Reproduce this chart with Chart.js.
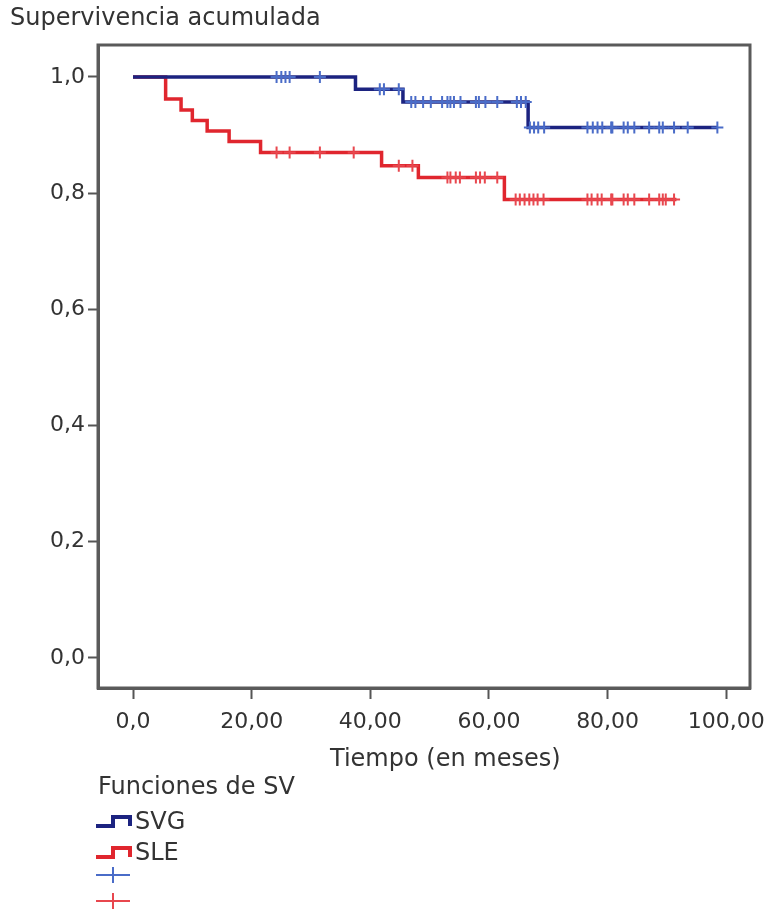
<!DOCTYPE html>
<html>
<head>
<meta charset="utf-8">
<script src="https://cdn.jsdelivr.net/npm/chart.js@4.4.1/dist/chart.umd.min.js"></script>
<style>
  body { margin: 0; background: #fff; font-family: "DejaVu Sans", Verdana, sans-serif; color: #333; }
  #wrap { position: relative; width: 767px; height: 910px; }
  #chart { position: absolute; left: 0; top: 0; }
  .txt { position: absolute; white-space: nowrap; font-size: 24px; color: #333; }
  .leg { position: absolute; left: 95px; height: 26px; display: flex; align-items: center; font-size: 24px; color: #333; }
  .leg svg { margin-right: 2px; }
</style>
</head>
<body>
<div id="wrap">
  <canvas id="chart" width="767" height="910"></canvas>
  <div class="txt" style="left:10px; top:3px;">Supervivencia acumulada</div>
  <div class="txt" style="left:330px; top:744px;">Tiempo (en meses)</div>
  <div class="txt" style="left:98px; top:772px;">Funciones de SV</div>
  <div class="leg" style="top:808px;">
    <svg width="38" height="20"><path d="M1 15 H18 V6 H35 V15" fill="none" stroke="#1c2380" stroke-width="4"/></svg>SVG
  </div>
  <div class="leg" style="top:839px;">
    <svg width="38" height="20"><path d="M1 15 H18 V6 H35 V15" fill="none" stroke="#e0262e" stroke-width="4"/></svg>SLE
  </div>
  <div class="leg" style="top:862px;">
    <svg width="38" height="24"><path d="M1 12 H35 M18 4 V20" fill="none" stroke="#4a6cc8" stroke-width="2"/></svg>
  </div>
  <div class="leg" style="top:888px;">
    <svg width="38" height="24"><path d="M1 12 H35 M18 4 V20" fill="none" stroke="#e8474e" stroke-width="2"/></svg>
  </div>
</div>
<script>
// Kaplan-Meier steps (time in months, cumulative survival after the event)
const svgTimes = [0, 37.5, 45.5, 66.6, 98.5];
const svgSurv  = [1.0, 0.979, 0.957, 0.913, 0.913];
const sleTimes = [0, 5.5, 8.1, 10.0, 12.5, 16.2, 21.5, 41.9, 48.1, 62.6, 91.6];
const sleSurv  = [1.0, 0.962, 0.943, 0.925, 0.907, 0.889, 0.870, 0.847, 0.827, 0.789, 0.789];

// censored cases (time in months)
const svgCensored = [24.2, 25.0, 25.7, 26.4, 31.5, 41.6, 42.3, 44.8, 46.9, 47.6, 48.9, 50.2, 52.1, 53.0,
  53.5, 54.1, 55.2, 57.8, 58.3, 59.4, 61.4, 64.7, 65.4, 66.2, 66.9, 67.6, 68.3, 69.3, 76.6, 77.5, 78.3,
  79.1, 80.6, 80.8, 82.7, 83.4, 84.5, 87.0, 88.7, 89.3, 91.2, 93.5, 98.5];
const sleCensored = [24.2, 26.4, 31.5, 37.2, 44.8, 47.1, 53.0, 53.5, 54.4, 55.1, 57.8, 58.5, 59.3, 61.4,
  64.5, 65.2, 66.0, 66.8, 67.5, 68.2, 69.2, 76.6, 77.3, 78.3, 79.0, 80.6, 80.8, 82.7, 83.4, 84.5, 87.0,
  88.7, 89.3, 89.8, 91.2];

const xTicks = [0, 20, 40, 60, 80, 100];
const xTickLabels = ["0,0", "20,00", "40,00", "60,00", "80,00", "100,00"];
const yTicks = [0, 0.2, 0.4, 0.6, 0.8, 1.0];
const yTickLabels = ["0,0", "0,2", "0,4", "0,6", "0,8", "1,0"];

function steps(times, surv) {
    return times.map((t, i) => ({ x: t, y: surv[i] }));
}

// survival value of the step curve at time t
function survAt(times, surv, t) {
    let s = surv[0];
    times.forEach((ti, i) => { if (ti <= t) s = surv[i]; });
    return s;
}

function censorPoints(cens, times, surv) {
    return cens.map(t => ({ x: t, y: survAt(times, surv, t) }));
}

// frame around the plot area
const boxPlugin = {
    id: 'box',
    afterDraw(chart) {
        const a = chart.chartArea;
        const c = chart.ctx;
        c.save();
        c.strokeStyle = '#5a5a5a';
        c.lineWidth = 3;
        c.strokeRect(a.left, a.top, a.right - a.left, a.bottom - a.top);
        c.restore();
    }
};

const tickFont = { family: '"DejaVu Sans", Verdana, sans-serif', size: 22 };

new Chart(document.getElementById('chart'), {
    type: 'line',
    data: {
        datasets: [
            {
                label: 'SVG censurado',
                data: censorPoints(svgCensored, svgTimes, svgSurv),
                showLine: false,
                pointStyle: 'cross',
                pointRadius: 6,
                pointBorderWidth: 2,
                pointBorderColor: '#4a6cc8',
                order: 0
            },
            {
                label: 'SLE censurado',
                data: censorPoints(sleCensored, sleTimes, sleSurv),
                showLine: false,
                pointStyle: 'cross',
                pointRadius: 6,
                pointBorderWidth: 2,
                pointBorderColor: '#e8474e',
                order: 0
            },
            {
                label: 'SVG',
                data: steps(svgTimes, svgSurv),
                stepped: true,
                borderColor: '#1c2380',
                borderWidth: 3.5,
                pointRadius: 0,
                fill: false,
                order: 1
            },
            {
                label: 'SLE',
                data: steps(sleTimes, sleSurv),
                stepped: true,
                borderColor: '#e0262e',
                borderWidth: 3.5,
                pointRadius: 0,
                fill: false,
                order: 1
            }
        ]
    },
    options: {
        responsive: false,
        animation: false,
        layout: { padding: { left: 0, top: 45, right: 17, bottom: 172 } },
        plugins: { legend: { display: false }, tooltip: { enabled: false } },
        scales: {
            x: {
                type: 'linear',
                min: -5.9,
                max: 104.0,
                afterFit: s => { s.height = 50; s.paddingLeft = 0; s.paddingRight = 0; },
                afterBuildTicks: s => { s.ticks = xTicks.map(v => ({ value: v })); },
                ticks: {
                    autoSkip: false,
                    maxRotation: 0,
                    padding: 10,
                    color: '#333',
                    font: tickFont,
                    callback: v => xTickLabels[xTicks.indexOf(v)]
                },
                grid: { drawOnChartArea: false, drawTicks: true, tickLength: 11, tickColor: '#555', tickWidth: 2 },
                border: { display: true, color: '#5a5a5a', width: 3 }
            },
            y: {
                type: 'linear',
                min: -0.052,
                max: 1.055,
                afterFit: s => { s.width = 98; s.paddingTop = 0; s.paddingBottom = 0; },
                afterBuildTicks: s => { s.ticks = yTicks.map(v => ({ value: v })); },
                ticks: {
                    autoSkip: false,
                    padding: 3,
                    color: '#333',
                    font: tickFont,
                    callback: v => yTickLabels[yTicks.findIndex(t => Math.abs(t - v) < 1e-9)]
                },
                grid: { drawOnChartArea: false, drawTicks: true, tickLength: 10, tickColor: '#555', tickWidth: 2 },
                border: { display: true, color: '#5a5a5a', width: 3 }
            }
        }
    },
    plugins: [boxPlugin]
});
</script>
</body>
</html>
